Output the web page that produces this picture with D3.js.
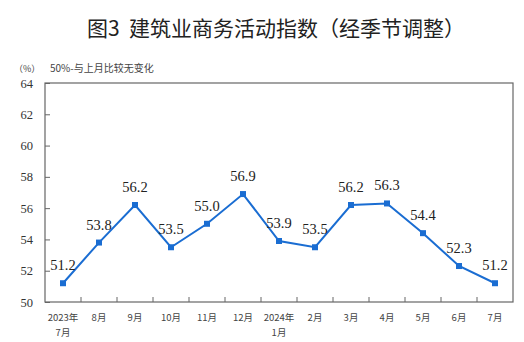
<!DOCTYPE html>
<html><head><meta charset="utf-8">
<script src="https://cdn.jsdelivr.net/npm/d3@7"></script>
<style>body{margin:0;background:#fff;}svg{display:block;}</style>
</head><body>
<script>
const categories = ["2023年|7月","8月","9月","10月","11月","12月","2024年|1月","2月","3月","4月","5月","6月","7月"];
const values = [51.2,53.8,56.2,53.5,55.0,56.9,53.9,53.5,56.2,56.3,54.4,52.3,51.2];
const yTicks = [50,52,54,56,58,60,62,64];
const title = "图3\u00a0\u00a0建筑业商务活动指数（经季节调整）";
const unitLabel = "（%）";
const note = "50%-与上月比较无变化";

const W=524,H=342;
const m={l:45,r:11,t:83,b:40};
const svg=d3.select("body").append("svg").attr("width",W).attr("height",H);
const x=d3.scaleBand().domain(categories).range([m.l,W-m.r]);
const y=d3.scaleLinear().domain([50,64]).range([H-m.b,m.t]);
const serif="Liberation Serif, Times New Roman, Times, serif";
const cjk="Noto Sans CJK SC, sans-serif";

svg.append("text").attr("x",276).attr("y",36).attr("text-anchor","middle")
  .attr("font-family",cjk).attr("font-weight",400).attr("font-size",21).attr("fill","#222").text(title);
svg.append("text").attr("x",14).attr("y",72).attr("font-family",cjk).attr("font-size",9).attr("fill","#444").text(unitLabel);
svg.append("text").attr("x",50).attr("y",72).attr("font-family",cjk).attr("font-size",10).attr("fill","#444").text(note);

// frame
svg.append("rect").attr("x",m.l).attr("y",m.t).attr("width",W-m.r-m.l).attr("height",H-m.b-m.t)
  .attr("fill","none").attr("stroke","#666").attr("stroke-width",1.2);

// y axis
const ya=svg.append("g").attr("transform",`translate(${m.l},0)`)
  .call(d3.axisRight(y).tickValues(yTicks).tickSize(5).tickFormat(d3.format("d")));
ya.select(".domain").remove();
ya.selectAll("line").attr("stroke","#666");
ya.selectAll("text").attr("x",-12).attr("text-anchor","end").style("font-family",serif).attr("font-size",12.5).attr("fill","#333");

// x ticks between bands
const xa=svg.append("g").attr("transform",`translate(0,${H-m.b})`);
xa.selectAll("line").data(categories.slice(1)).join("line")
  .attr("x1",d=>x(d)).attr("x2",d=>x(d)).attr("y1",0).attr("y2",-5).attr("stroke","#666");
const lines=[];
categories.forEach(c=>c.split("|").forEach((p,i)=>lines.push({c,p,i})));
xa.selectAll("text").data(lines).join("text")
  .attr("text-anchor","middle").attr("font-family",cjk).attr("font-size",9.5).attr("fill","#444")
  .attr("x",d=>x(d.c)+x.bandwidth()/2).attr("y",d=>19+d.i*14.5).text(d=>d.p);

// line
const data=categories.map((c,i)=>({c,v:values[i]}));
const cx=d=>x(d.c)+x.bandwidth()/2;
svg.append("path").datum(data).attr("fill","none").attr("stroke","#1a6dd2").attr("stroke-width",2)
  .attr("d",d3.line().x(cx).y(d=>y(d.v)));
svg.selectAll("rect.pt").data(data).join("rect").attr("class","pt")
  .attr("x",d=>cx(d)-3).attr("y",d=>y(d.v)-3).attr("width",6).attr("height",6).attr("fill","#1a6dd2");
svg.selectAll("text.lbl").data(data).join("text").attr("class","lbl")
  .attr("x",cx).attr("y",d=>y(d.v)-13).attr("text-anchor","middle")
  .style("font-family",serif).attr("font-size",14.5).attr("fill","#222").text(d=>d.v.toFixed(1));
</script>
</body></html>
